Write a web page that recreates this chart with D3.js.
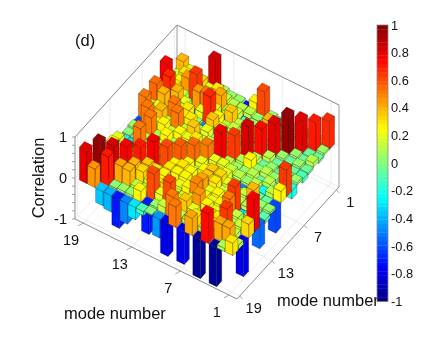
<!DOCTYPE html>
<html>
<head>
<meta charset="utf-8">
<script src="https://cdn.jsdelivr.net/npm/d3@7"></script>
<style>
    html, body { margin: 0; padding: 0; background: #fff; }
    text { font-family: "Liberation Sans", Arial, sans-serif; fill: #111; }
    svg { filter: blur(0.3px); }
</style>
</head>
<body>
<svg id="chart" width="436" height="339"></svg>
<script>
var axisModes = [1, 7, 13, 19];
var zTicks = [-1, 0, 1];
var colorTicks = [1, 0.8, 0.6, 0.4, 0.2, 0, -0.2, -0.4, -0.6, -0.8, -1];

// rows are the left axis mode 1..19, columns the right axis mode 1..19
var corr = [
    [.68, .05, -.05, .1, -.05, -.1, .05, -.2, .65, .27, -.6, .05, -.08, -.55, .78, .33, -.8, .1, .3],
    [.05, .7, -.05, -.05, .05, -.05, .05, -.1, -.05, .1, -.05, .05, -.05, .1, .05, .15, .1, .42, .08],
    [-.05, .05, .8, .05, -.05, -.05, -.08, .05, .1, -.25, -.05, .38, .1, -.3, .15, .1, .65, .42, -.95],
    [.05, -.05, .05, .95, .05, -.05, .05, .1, -.05, .1, .05, .15, .1, .65, .5, .2, .3, .2, .72],
    [-.1, .05, -.05, .05, .8, .1, -.05, .05, .1, .05, -.5, .1, .2, .15, .25, .2, .3, .1, -.95],
    [.05, -.15, .05, -.05, -.1, .72, .1, .25, .05, .1, .05, .2, .15, .25, .2, .28, .1, .3, .42],
    [-.1, .05, .38, .05, -.05, .1, .82, .1, .05, .15, .2, .32, .3, .2, .25, .45, .2, .1, -.8],
    [.05, -.15, .05, .1, -.05, .05, .1, .65, .1, .2, .15, .35, .35, .42, .48, .2, .35, .1, .5],
    [.62, .05, .05, -.1, .1, .05, .1, .05, .78, .2, .1, .25, .1, .2, .28, .15, .25, .5, -.8],
    [.25, .1, -.05, .1, .15, .05, .1, .2, .1, .5, .2, .1, .25, .27, .2, .15, .6, .15, -.45],
    [-.7, .1, .15, .35, .1, .2, .05, .15, .2, .1, .55, .22, .3, .28, .15, .3, .2, .05, .02],
    [.05, .1, .1, -.55, .25, .35, .2, .1, .3, .15, .1, .58, .25, .3, .28, .2, .62, -.7, -.1],
    [.05, .15, .42, .2, .68, -.5, .1, .36, .2, .15, .25, .15, .6, .1, .3, .2, .1, .25, -.3],
    [.1, .3, .15, .5, .2, .05, .3, .15, .25, .1, .2, -.25, .1, .78, .35, .33, .1, .05, -.5],
    [.82, .2, .15, .45, -.65, .3, .1, .52, .15, .25, .1, .2, .1, .15, .7, .4, .4, .05, -.7],
    [.1, .32, .65, -.3, .2, .05, .5, .15, .28, .1, -.3, .15, .25, .1, .2, .75, .42, .03, -.4],
    [.1, .2, .45, .15, .4, -.3, .1, .38, .2, .5, .1, .52, -.3, .2, .1, .2, .82, .7, -.35],
    [.2, .3, .25, .3, .68, .4, .2, .1, .5, .1, -.05, -.3, .1, .2, .1, .2, .3, .95, .45],
    [.38, .15, .2, .75, .3, .55, .15, .52, -.6, .05, .02, -.2, .2, .25, .1, .15, .3, .4, .8]
];

var svg = d3.select("#chart");

// oblique projection of the MATLAB view
var axX = d3.scaleLinear().domain([0, 20]).range([0, -162]),
    axY = d3.scaleLinear().domain([0, 20]).range([0, -80]),
    bxX = d3.scaleLinear().domain([19.5, 0.5]).range([0, 102]),
    bxY = d3.scaleLinear().domain([19.5, 0.5]).range([0, -112]),
    zY = d3.scaleLinear().domain([-1, 1]).range([0, -82]);

var originX = 237, originY = 299;
var barHalf = 0.47;

function project(a, b, z) {
    return [originX + axX(a) + bxX(b), originY + axY(a) + bxY(b) + zY(z)];
}

function jet(v) {
    var t = (v + 1) / 2;
    t = (Math.min(Math.floor(t * 64), 63) + 0.5) / 64;
    var stops = [0, .125, .375, .625, .875, 1];
    var r = d3.scaleLinear().domain(stops).range([0, 0, 0, 1, 1, .5])(t),
        g = d3.scaleLinear().domain(stops).range([0, 0, 1, 1, 0, 0])(t),
        b = d3.scaleLinear().domain(stops).range([.5, 1, 1, 0, 0, 0])(t);
    return d3.rgb(r * 255, g * 255, b * 255).formatHex();
}

function poly(points) {
    return points.map(function (p) { return p[0].toFixed(2) + "," + p[1].toFixed(2); }).join(" ");
}

// walls and grid
var a0 = 0, a1 = 20, b0 = 19.5, b1 = 0.5;
var walls = svg.append("g").attr("fill", "none");

function seg(g, p, q, color, w) {
    g.append("line")
        .attr("x1", p[0]).attr("y1", p[1])
        .attr("x2", q[0]).attr("y2", q[1])
        .attr("stroke", color).attr("stroke-width", w);
}

axisModes.forEach(function (m) {
    seg(walls, project(m, b0, -1), project(m, b1, -1), "#e4e4e4", 0.7);
    seg(walls, project(m, b1, -1), project(m, b1, 1), "#e4e4e4", 0.7);
    seg(walls, project(a0, m, -1), project(a1, m, -1), "#e4e4e4", 0.7);
    seg(walls, project(a1, m, -1), project(a1, m, 1), "#e4e4e4", 0.7);
});
zTicks.forEach(function (z) {
    seg(walls, project(a1, b0, z), project(a1, b1, z), "#e4e4e4", 0.7);
    seg(walls, project(a1, b1, z), project(a0, b1, z), "#e4e4e4", 0.7);
});

seg(walls, project(a1, b0, 1), project(a1, b1, 1), "#8a8a8a", 1);
seg(walls, project(a1, b1, 1), project(a0, b1, 1), "#8a8a8a", 1);
seg(walls, project(a1, b1, -1), project(a1, b1, 1), "#9a9a9a", 1);
seg(walls, project(a0, b1, -1), project(a0, b1, 1), "#9a9a9a", 1);
seg(walls, project(a1, b0, -1), project(a1, b0, 1), "#8a8a8a", 1);
seg(walls, project(a1, b0, -1), project(a0, b0, -1), "#8a8a8a", 1);
seg(walls, project(a0, b0, -1), project(a0, b1, -1), "#8a8a8a", 1);

// z axis minor ticks
d3.range(-1, 1.01, 0.2).forEach(function (z) {
    var p = project(a1, b0, z);
    seg(walls, p, [p[0] - 3, p[1]], "#8a8a8a", 0.8);
});

// ticks on the two floor edges
axisModes.forEach(function (m) {
    var p = project(m, b0, -1);
    seg(walls, p, [p[0] - 5, p[1] + 3], "#8a8a8a", 0.8);
    var q = project(a0, m, -1);
    seg(walls, q, [q[0] + 3, q[1] + 3], "#8a8a8a", 0.8);
});

// bars, painted back to front
var cells = [];
corr.forEach(function (row, i) {
    row.forEach(function (v, j) {
        cells.push({ a: i + 1, b: j + 1, v: v });
    });
});
cells.sort(function (p, q) {
    return d3.descending(p.a, q.a) || d3.ascending(p.b, q.b);
});

var bars = svg.append("g").attr("class", "bars")
    .selectAll("g")
    .data(cells)
    .enter().append("g")
    .attr("fill", function (d) { return jet(d.v); })
    .attr("stroke", "rgba(0,0,0,0.45)")
    .attr("stroke-width", 0.6)
    .attr("stroke-linejoin", "round");

// side facing the left axis
bars.append("polygon").attr("points", function (d) {
    var top = Math.max(d.v, 0), low = Math.min(d.v, 0);
    return poly([
        project(d.a + barHalf, d.b + barHalf, top),
        project(d.a - barHalf, d.b + barHalf, top),
        project(d.a - barHalf, d.b + barHalf, low),
        project(d.a + barHalf, d.b + barHalf, low)
    ]);
});
// side facing the right axis
bars.append("polygon").attr("points", function (d) {
    var top = Math.max(d.v, 0), low = Math.min(d.v, 0);
    return poly([
        project(d.a - barHalf, d.b + barHalf, top),
        project(d.a - barHalf, d.b - barHalf, top),
        project(d.a - barHalf, d.b - barHalf, low),
        project(d.a - barHalf, d.b + barHalf, low)
    ]);
});
// top
bars.append("polygon").attr("points", function (d) {
    var top = Math.max(d.v, 0);
    return poly([
        project(d.a + barHalf, d.b + barHalf, top),
        project(d.a - barHalf, d.b + barHalf, top),
        project(d.a - barHalf, d.b - barHalf, top),
        project(d.a + barHalf, d.b - barHalf, top)
    ]);
});

// tick labels
svg.selectAll(".tick-a")
    .data(axisModes)
    .enter().append("text")
    .attr("class", "tick-a")
    .attr("x", function (d) { var p = project(d, b0, -1); return p[0] - 12; })
    .attr("y", function (d) { var p = project(d, b0, -1); return p[1] + 22; })
    .attr("text-anchor", "middle")
    .attr("font-size", 14.5)
    .text(function (d) { return d; });

svg.selectAll(".tick-b")
    .data(axisModes)
    .enter().append("text")
    .attr("class", "tick-b")
    .attr("x", function (d) { var p = project(a0, d, -1); return p[0] + 14; })
    .attr("y", function (d) { var p = project(a0, d, -1); return p[1] + 17; })
    .attr("text-anchor", "middle")
    .attr("font-size", 14.5)
    .text(function (d) { return d; });

svg.selectAll(".tick-z")
    .data(zTicks)
    .enter().append("text")
    .attr("class", "tick-z")
    .attr("x", 67)
    .attr("y", function (d) { return project(a1, b0, d)[1] + 5; })
    .attr("text-anchor", "end")
    .attr("font-size", 14.5)
    .text(function (d) { return d; });

svg.append("text").attr("x", 64).attr("y", 319).attr("font-size", 16.5).text("mode number");
svg.append("text").attr("x", 277).attr("y", 306).attr("font-size", 16.5).text("mode number");
svg.append("text").attr("x", 75).attr("y", 46).attr("font-size", 16.5).text("(d)");
svg.append("text")
    .attr("transform", "translate(44,178) rotate(-90)")
    .attr("text-anchor", "middle")
    .attr("font-size", 16.5)
    .text("Correlation");

// colorbar
var barY = d3.scaleLinear().domain([-1, 1]).range([301.5, 25]);
var levels = d3.range(64).map(function (i) { return -1 + (i + 0.5) / 32; });
var cbar = svg.append("g");
cbar.selectAll("rect")
    .data(levels)
    .enter().append("rect")
    .attr("x", 377)
    .attr("width", 11)
    .attr("y", function (d) { return barY(d + 1 / 64); })
    .attr("height", function (d) { return barY(d - 1 / 64) - barY(d + 1 / 64) + 0.3; })
    .attr("fill", function (d) { return jet(d); });
cbar.append("rect")
    .attr("x", 377).attr("y", 25).attr("width", 11).attr("height", 276.5)
    .attr("fill", "none").attr("stroke", "#8a8a8a").attr("stroke-width", 0.8);

svg.selectAll(".tick-c")
    .data(colorTicks)
    .enter().append("text")
    .attr("class", "tick-c")
    .attr("x", 391)
    .attr("y", function (d) { return barY(d) + 4.5; })
    .attr("font-size", 12.8)
    .text(function (d) { return d; });
</script>
</body>
</html>
